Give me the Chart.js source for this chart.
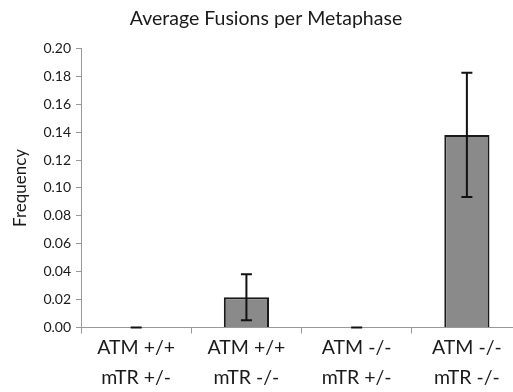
<!DOCTYPE html>
<html><head><meta charset="utf-8">
<script src="https://cdn.jsdelivr.net/npm/chart.js@4"></script>
<style>html,body{margin:0;padding:0;background:#fff;overflow:hidden;width:513px;height:392px}#wrap{width:522px;height:392px;position:relative}</style>
</head><body><div id="wrap"><canvas id="c" width="522" height="392"></canvas></div>
<script>
const categories = [["ATM +/+","mTR +/-"],["ATM +/+","mTR -/-"],["ATM -/-","mTR +/-"],["ATM -/-","mTR -/-"]];
const values = [0, 0.0217, 0, 0.138];
const errors = [0, 0.0165, 0, 0.0445];
const yTicks = [0,0.02,0.04,0.06,0.08,0.10,0.12,0.14,0.16,0.18,0.20];

const FONT = "Lato, 'Noto Sans', sans-serif";
const errPlugin = {
  id:'errbars',
  afterDatasetsDraw(chart){
    const ctx = chart.ctx, meta = chart.getDatasetMeta(0), ys = chart.scales.y;
    ctx.save(); ctx.strokeStyle='#111'; ctx.lineWidth=2;
    meta.data.forEach((bar,i)=>{
      const x = bar.x, v = values[i], e = errors[i];
      const t = ys.getPixelForValue(v+e), b = ys.getPixelForValue(Math.max(0,v-e));
      ctx.beginPath();
      ctx.moveTo(x,t); ctx.lineTo(x,b);
      ctx.moveTo(x-5.5,t); ctx.lineTo(x+5.5,t);
      ctx.moveTo(x-5.5,b); ctx.lineTo(x+5.5,b);
      ctx.stroke();
    });
    ctx.restore();
  }
};
new Chart(document.getElementById('c'),{
  type:'bar',
  data:{labels:categories,datasets:[{data:values,backgroundColor:'#8a8a8a',borderColor:'#1a1a1a',borderWidth:2,barPercentage:0.41,categoryPercentage:1}]},
  options:{
    responsive:false,animation:false,
    layout:{padding:{left:10,right:0,top:0,bottom:0}},
    plugins:{legend:{display:false},tooltip:{enabled:false},
      title:{display:true,text:'Average Fusions per Metaphase',color:'#1a1a1a',font:{family:FONT,size:19.5,weight:'normal'},padding:{top:7,bottom:18}}},
    scales:{
      x:{grid:{display:true,drawOnChartArea:false,offset:true,tickLength:6,color:'#999'},border:{color:'#999',width:1},
         ticks:{color:'#1a1a1a',font:{family:FONT,size:19.5,lineHeight:1.5},padding:0,maxRotation:0}},
      y:{min:0,max:0.2,afterBuildTicks:(s)=>{s.ticks=yTicks.map(v=>({value:v}));},
         grid:{display:true,drawOnChartArea:false,tickLength:5,color:'#999'},border:{color:'#999',width:1},
         ticks:{color:'#1a1a1a',font:{family:FONT,size:14},padding:5,callback:(v)=>v.toFixed(2)},
         title:{display:true,text:'Frequency',color:'#1a1a1a',font:{family:FONT,size:17},padding:{top:0,bottom:8}}}
    }
  },
  plugins:[errPlugin]
});
</script></body></html>
